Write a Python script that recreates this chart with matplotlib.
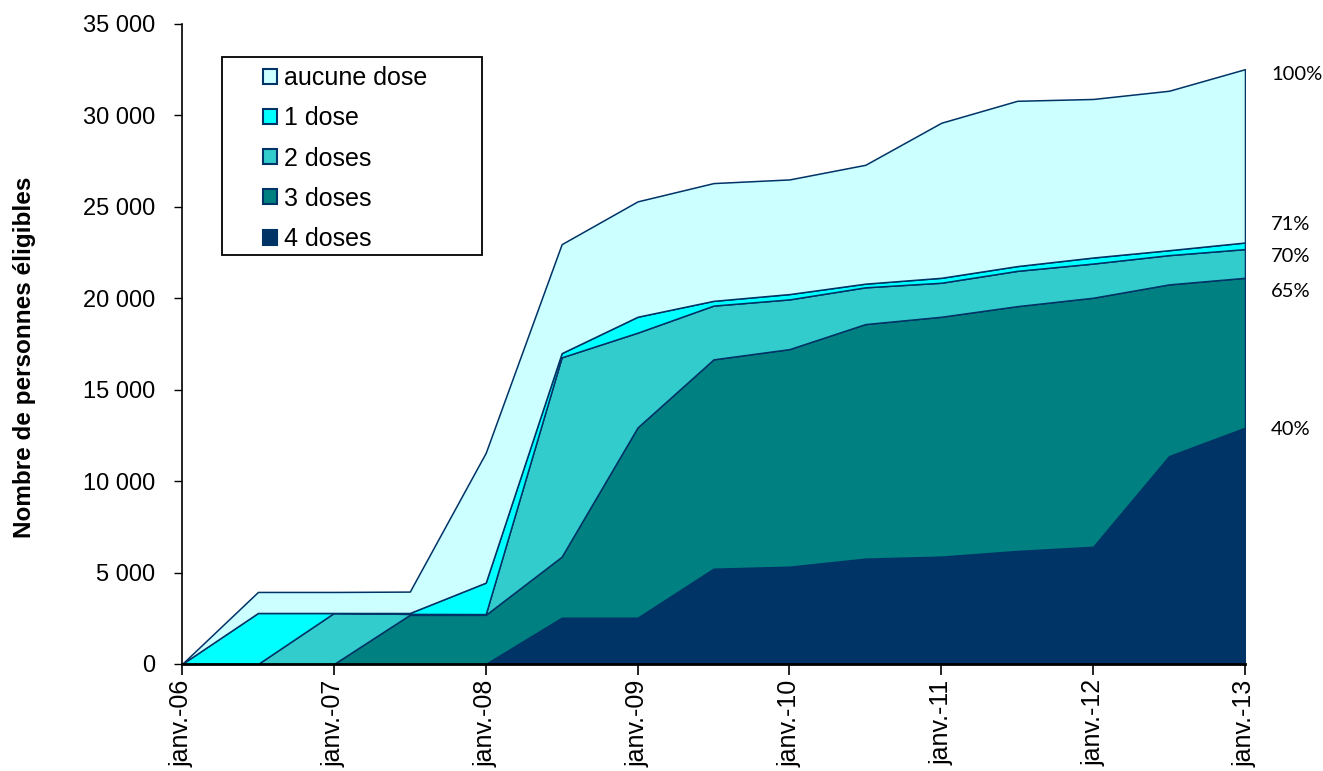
import matplotlib
matplotlib.use("Agg")
import matplotlib.pyplot as plt
import numpy as np
from matplotlib.ticker import FuncFormatter, FixedLocator
from matplotlib.patches import Rectangle

# ---- data ----
periods = ["janv.-06", "juil.-06", "janv.-07", "juil.-07", "janv.-08", "juil.-08",
           "janv.-09", "juil.-09", "janv.-10", "juil.-10", "janv.-11", "juil.-11",
           "janv.-12", "juil.-12", "janv.-13"]
doses4 = [0, 0, 0, 0, 0, 2530, 2530, 5210, 5320, 5760, 5870, 6180, 6410, 11370, 12920]
doses3 = [0, 0, 0, 2690, 2690, 3340, 10410, 11450, 11900, 12830, 13120, 13390, 13620, 9390, 8200]
doses2 = [0, 0, 2790, 50, 40, 10900, 5180, 2940, 2720, 2010, 1860, 1930, 1870, 1600, 1570]
doses1 = [0, 2790, 0, 50, 1720, 230, 870, 260, 290, 200, 270, 260, 330, 270, 360]
aucune = [0, 1150, 1150, 1170, 7100, 5960, 6310, 6440, 6270, 6500, 8480, 9040, 8670, 8720, 9480]
series_labels = ["4 doses", "3 doses", "2 doses", "1 dose", "aucune dose"]
series_colors = ["#003366", "#008080", "#33CCCC", "#00FFFF", "#CCFFFF"]
yticks_vals = [0, 5000, 10000, 15000, 20000, 25000, 30000, 35000]
# vertical positions (data units) of the end-of-series percentage labels
pct_label_y = [12850, 20390, 22310, 24060, 32260]

plt.rcParams['font.family'] = ['Liberation Sans', 'DejaVu Sans']

fig = plt.figure(figsize=(13.23, 7.71), dpi=100)
ax = fig.add_axes([182/1323, 1-664/771, (1245-182)/1323, 640/771])

x = np.arange(len(periods))
stack = [doses4, doses3, doses2, doses1, aucune]
polys = ax.stackplot(x, *stack, colors=series_colors, edgecolor="#003366",
                     linewidth=1.1, labels=series_labels)

ax.set_xlim(0, len(periods)-1)
ax.set_ylim(0, 35000)

ax.yaxis.set_major_locator(FixedLocator(yticks_vals))
ax.yaxis.set_major_formatter(FuncFormatter(lambda v, p: f"{int(v):,}".replace(",", " ")))
ax.tick_params(axis='y', labelsize=17, length=6, width=1, direction='out', pad=13.5)

year_idx = list(range(0, len(periods), 2))
ax.set_xticks(year_idx)
ax.set_xticklabels([periods[i] for i in year_idx], rotation=90, fontsize=18)
ax.tick_params(axis='x', length=8, width=1.2, direction='out', pad=3)

for s in ["top", "right"]:
    ax.spines[s].set_visible(False)
ax.spines["left"].set_linewidth(1.2)
ax.spines["bottom"].set_linewidth(2)
ax.spines["left"].set_color("black")
ax.spines["bottom"].set_color("black")

fig.text(25/1323, 1-357/771, "Nombre de personnes éligibles", rotation=90,
         fontsize=17.5, fontweight='bold', ha='center', va='center')

# percentage labels at the end
total = np.array(doses4) + np.array(doses3) + np.array(doses2) + np.array(doses1) + np.array(aucune)
cums = np.cumsum(np.array(stack), axis=0)
for k in range(5):
    pct = int(round(cums[k][-1] / total[-1] * 100))
    ax.text(len(periods)-1 + 26/75.93, pct_label_y[k], f"{pct}%", fontsize=14.5,
            ha='left', va='center', clip_on=False, family=['Lato', 'DejaVu Sans'])

# legend frame
ax.add_patch(Rectangle((222/1323, 1-255/771), 260/1323, 198/771, transform=fig.transFigure,
                       facecolor='white', edgecolor='black', linewidth=1.3, zorder=5,
                       clip_on=False))
handles, labels = ax.get_legend_handles_labels()
leg = ax.legend(handles[::-1], labels[::-1], loc='upper left',
                bbox_to_anchor=(263/1323, 1-66/771), bbox_transform=fig.transFigure,
                fontsize=18, frameon=False, handlelength=0.55,
                handleheight=0.55, handletextpad=0.3, labelspacing=0.65,
                borderpad=0, borderaxespad=0)
leg.set_zorder(6)
for h in leg.legend_handles:
    h.set_edgecolor("#003366")
    h.set_linewidth(1.5)

fig.savefig("out.png", dpi=100)
